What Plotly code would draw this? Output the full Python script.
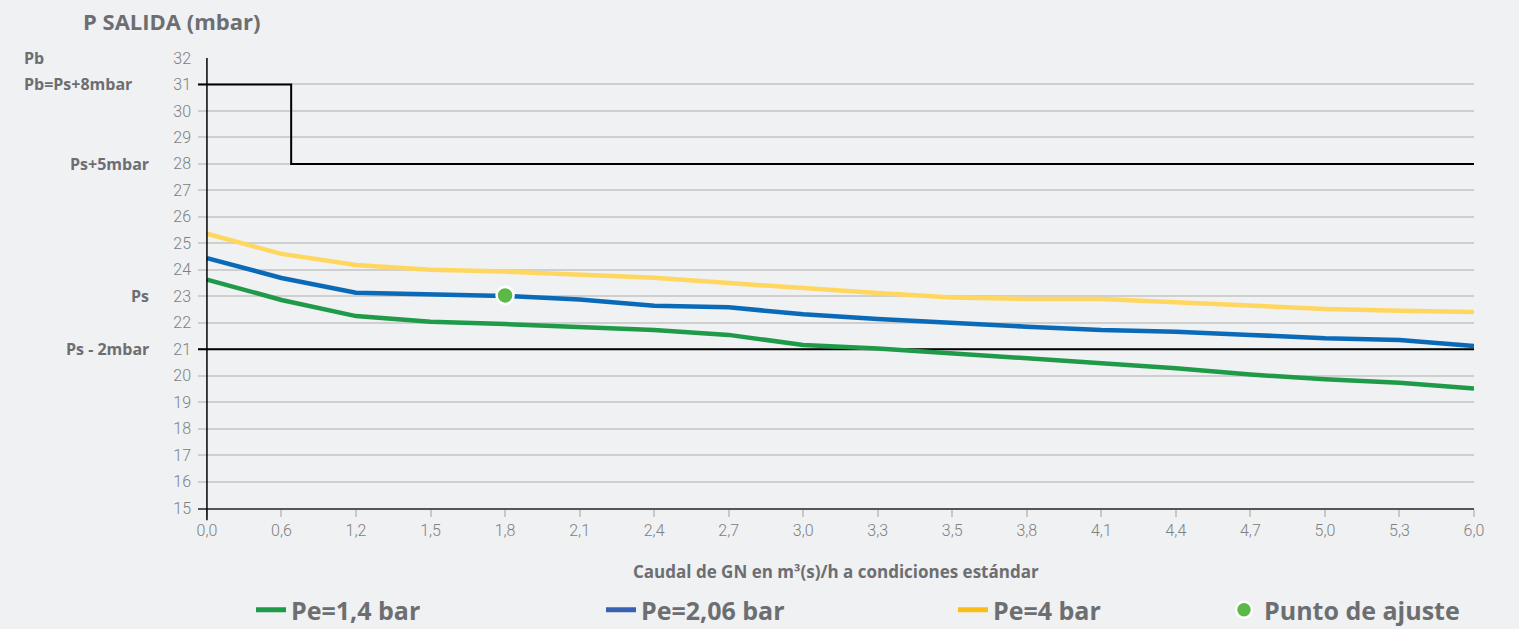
import plotly.graph_objects as go

# ---- data ----
categories = ["0,0", "0,6", "1,2", "1,5", "1,8", "2,1", "2,4", "2,7", "3,0",
              "3,3", "3,5", "3,8", "4,1", "4,4", "4,7", "5,0", "5,3", "6,0"]
pe_14 = [23.63, 22.86, 22.25, 22.04, 21.95, 21.83, 21.72, 21.54, 21.16,
         21.03, 20.84, 20.62, 20.47, 20.28, 20.04, 19.86, 19.73, 19.51]
pe_206 = [24.44, 23.69, 23.13, 23.08, 23.01, 22.88, 22.64, 22.58, 22.32,
          22.14, 21.98, 21.85, 21.72, 21.66, 21.54, 21.41, 21.35, 21.12]
pe_4 = [25.36, 24.60, 24.18, 24.00, 23.93, 23.82, 23.70, 23.50, 23.30,
        23.12, 22.95, 22.90, 22.90, 22.76, 22.64, 22.52, 22.45, 22.40]
punto_x = [4]
punto_y = [23.03]
pb_x = [-0.12, 1.13, 1.13, 17]
pb_y = [31, 31, 28, 28]
ps2_x = [-0.12, 17]
ps2_y = [21, 21]
y_ticks = list(range(15, 33))
side_labels = [("Ps+5mbar", 28), ("Ps", 23), ("Ps - 2mbar", 21)]

GRAY_T = "#6d6e71"
BG = "#eff1f3"
BOLD_FONT = "Open Sans, Roboto, sans-serif"
TICK_FONT = "Roboto, sans-serif"

idx = list(range(len(categories)))

# pixel helpers for layout placement
L, R, T, B = 198, 45, 58, 121
W, H = 1519, 629
PW, PH = W - L - R, H - T - B
def px(x):
    return (x - L) / PW
def py(y):
    return (H - B - y) / PH

fig = go.Figure()

fig.add_trace(go.Scatter(x=pb_x, y=pb_y, mode="lines",
                         line=dict(color="black", width=2), showlegend=False, hoverinfo="skip"))
fig.add_trace(go.Scatter(x=ps2_x, y=ps2_y, mode="lines",
                         line=dict(color="black", width=2), showlegend=False, hoverinfo="skip"))

series = [
    ("Pe=1,4 bar", pe_14, "#1f9a48", "#1f9a48", "legend"),
    ("Pe=2,06 bar", pe_206, "#0a6ab8", "#3a60b2", "legend2"),
    ("Pe=4 bar", pe_4, "#ffd75e", "#fbbd18", "legend3"),
]
for name, vals, col, lcol, lg in series:
    fig.add_trace(go.Scatter(x=idx, y=vals, mode="lines", name=name,
                             line=dict(color=col, width=4.5), showlegend=False))
    fig.add_trace(go.Scatter(x=[None], y=[None], mode="lines", name=name,
                             line=dict(color=lcol, width=5), legend=lg))

fig.add_trace(go.Scatter(x=punto_x, y=punto_y, mode="markers", name="Punto de ajuste",
                         marker=dict(color="#5cb947", size=17, line=dict(color="white", width=2.5)),
                         legend="legend4"))

# y axis vertical line
fig.add_shape(type="line", xref="x", yref="paper", x0=0, x1=0, y0=-0.027, y1=1,
              line=dict(color="black", width=1.5), layer="above")

annotations = [
    dict(text="P SALIDA (mbar)", x=px(81), y=py(21), xref="paper", yref="paper",
         xanchor="left", yanchor="middle", showarrow=False,
         font=dict(family=BOLD_FONT, size=22, color=GRAY_T, weight="bold")),
    dict(text="Caudal de GN en m³(s)/h a condiciones estándar", x=px(836), y=py(571),
         xref="paper", yref="paper", xanchor="center", yanchor="middle", showarrow=False,
         font=dict(family=BOLD_FONT, size=17, color=GRAY_T, weight="bold")),
    dict(text="Pb", x=px(22), y=32, xref="paper", yref="y", xanchor="left", yanchor="middle",
         showarrow=False, font=dict(family=BOLD_FONT, size=16, color=GRAY_T, weight="bold")),
    dict(text="Pb=Ps+8mbar", x=px(22), y=31, xref="paper", yref="y", xanchor="left",
         yanchor="middle", showarrow=False,
         font=dict(family=BOLD_FONT, size=16, color=GRAY_T, weight="bold")),
]
for txt, yv in side_labels:
    annotations.append(dict(text=txt, x=px(151), y=yv, xref="paper", yref="y",
                            xanchor="right", yanchor="middle", showarrow=False,
                            font=dict(family=BOLD_FONT, size=16, color=GRAY_T, weight="bold")))

leg_font = dict(family=BOLD_FONT, size=25, color=GRAY_T, weight="bold")
def leg(xpix):
    return dict(orientation="h", x=px(xpix), y=py(610), xanchor="left", yanchor="middle",
                bgcolor="rgba(0,0,0,0)", font=leg_font, itemwidth=30)

fig.update_layout(
    width=W, height=H,
    margin=dict(l=L, r=R, t=T, b=B, autoexpand=False),
    paper_bgcolor=BG, plot_bgcolor=BG,
    font=dict(family=TICK_FONT, color="#808080"),
    annotations=annotations,
    legend=leg(251), legend2=leg(601), legend3=leg(953), legend4=leg(1224),
    xaxis=dict(range=[-0.12, 17], tickmode="array", tickvals=idx, ticktext=categories,
               showgrid=False, zeroline=False, showline=True, linecolor="#555555", linewidth=2,
               ticks="outside", ticklen=7, tickcolor="#c8c8c8", tickwidth=1.5,
               tickfont=dict(family=TICK_FONT, size=16, color="#808080", weight=300)),
    yaxis=dict(range=[15, 32], tickmode="array", tickvals=y_ticks,
               showgrid=True, gridcolor="#cfcfcf", gridwidth=1.5, zeroline=False,
               showline=False, ticks="", ticklabelstandoff=6,
               tickfont=dict(family=TICK_FONT, size=16, color="#808080", weight=300)),
)

fig.write_html("out.html", config={"displayModeBar": False},
               post_script="document.body.style.margin='0';document.body.style.padding='0';")
